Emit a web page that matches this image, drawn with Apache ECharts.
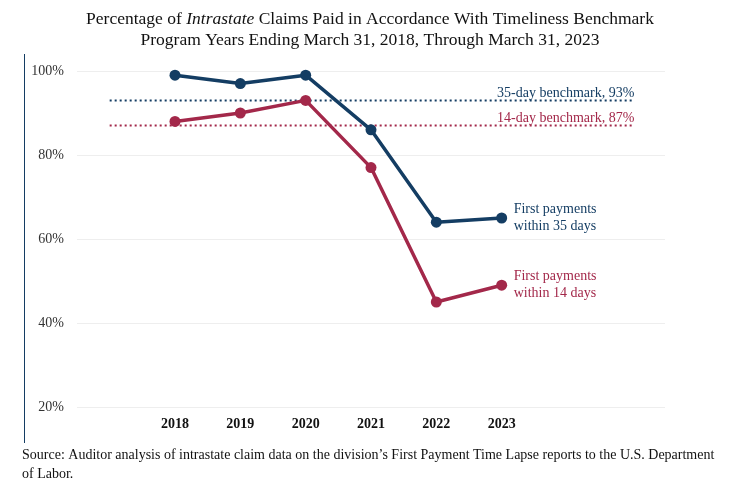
<!DOCTYPE html>
<html><head><meta charset="utf-8">
<script src="https://cdn.jsdelivr.net/npm/echarts@6/dist/echarts.min.js"></script>
<style>html,body{margin:0;padding:0;background:#fff}#c{width:740px;height:487px}</style>
</head><body><div id="c"></div>
<script>
const categories = ['', '2018', '2019', '2020', '2021', '2022', '2023', '', ''];
const within35 = [null, 99, 97, 99, 86, 64, 65, null, null];
const within14 = [null, 88, 90, 93, 77, 45, 49, null, null];
const benchmark35 = 93;
const benchmark14 = 87;
const yTicks = [20, 40, 60, 80, 100];

const NAVY = '#143d63';
const RED = '#a3284a';
const FONT = '"Liberation Serif", "DejaVu Serif", serif';

const bench35Data = categories.map(() => benchmark35);
const bench14Data = categories.map(() => benchmark14);

const chart = echarts.init(document.getElementById('c'), null, {renderer: 'canvas'});
chart.setOption({
  animation: false,
  backgroundColor: '#fff',
  textStyle: {fontFamily: FONT},
  title: {
    text: 'Percentage of {i|Intrastate} Claims Paid in Accordance With Timeliness Benchmark\nProgram Years Ending March 31, 2018, Through March 31, 2023',
    left: 'center', top: 4,
    textStyle: {
      fontFamily: FONT, fontSize: 17.5, fontWeight: 'normal', color: '#111', lineHeight: 21,
      rich: {i: {fontFamily: FONT, fontSize: 17.5, fontStyle: 'italic', color: '#111'}}
    }
  },
  grid: {left: 77, right: 75, top: 71, bottom: 80},
  xAxis: {
    type: 'category', data: categories, boundaryGap: true,
    axisLine: {show: false}, axisTick: {show: false},
    axisLabel: {fontFamily: FONT, fontSize: 14, fontWeight: 'bold', color: '#111', margin: 10}
  },
  yAxis: {
    type: 'value', min: yTicks[0], max: yTicks[yTicks.length - 1], interval: 20,
    axisLine: {show: false}, axisTick: {show: false},
    splitLine: {lineStyle: {color: '#eeeeee', width: 1}},
    axisLabel: {fontFamily: FONT, fontSize: 14, color: '#333', margin: 13, formatter: '{value}%'}
  },
  series: [
    {
      type: 'line', data: bench35Data, symbol: 'none', silent: true,
      lineStyle: {color: NAVY, width: 2, type: [2, 3]},
      endLabel: {show: true, distance: 0, offset: [2, -7], align: 'right',
        fontFamily: FONT, fontSize: 14, color: NAVY,
        formatter: '35-day benchmark, ' + benchmark35 + '%'}
    },
    {
      type: 'line', data: bench14Data, symbol: 'none', silent: true,
      lineStyle: {color: RED, width: 2, type: [2, 3]},
      endLabel: {show: true, distance: 0, offset: [2, -7], align: 'right',
        fontFamily: FONT, fontSize: 14, color: RED,
        formatter: '14-day benchmark, ' + benchmark14 + '%'}
    },
    {
      type: 'line', data: within35, symbol: 'circle', symbolSize: 11,
      itemStyle: {color: NAVY}, lineStyle: {color: NAVY, width: 3.5},
      endLabel: {show: true, distance: 12, fontFamily: FONT, fontSize: 14, color: NAVY, lineHeight: 17,
        formatter: 'First payments\nwithin 35 days'}
    },
    {
      type: 'line', data: within14, symbol: 'circle', symbolSize: 11,
      itemStyle: {color: RED}, lineStyle: {color: RED, width: 3.5},
      endLabel: {show: true, distance: 12, fontFamily: FONT, fontSize: 14, color: RED, lineHeight: 17,
        formatter: 'First payments\nwithin 14 days'}
    }
  ],
  graphic: [
    {type: 'line', shape: {x1: 24.5, y1: 54, x2: 24.5, y2: 443}, style: {stroke: NAVY, lineWidth: 1}},
    {type: 'text', left: 22, top: 446, style: {
      text: 'Source: Auditor analysis of intrastate claim data on the division\u2019s First Payment Time Lapse reports to the U.S. Department\nof Labor.',
      font: '14px ' + FONT, fill: '#111', lineHeight: 19}}
  ]
});
</script></body></html>
